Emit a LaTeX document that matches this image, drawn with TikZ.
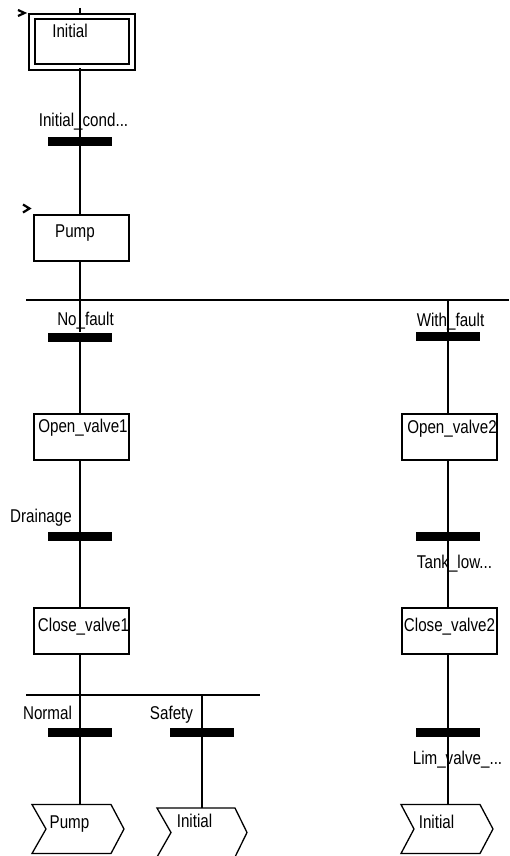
\documentclass[tikz,border=0pt]{standalone}
\usepackage{fontspec}
\setmainfont{Liberation Sans}[FakeStretch=0.82]
\begin{document}
\begin{tikzpicture}[x=1pt,y=-1pt,
  every node/.style={font=\fontsize{18.5}{21}\selectfont},
  flow/.style={line width=2pt},
  stepbox/.style={draw, line width=2pt, minimum width=95pt, minimum height=46pt, inner sep=0pt},
  trbar/.style={fill=black, minimum width=64pt, minimum height=9pt, inner sep=0pt},
  lbl/.style={anchor=base, inner sep=0pt},
  jumpline/.style={line width=1.3pt, line join=miter},
  initmark/.style={line width=2.2pt, line join=miter}]
\useasboundingbox (0,0) rectangle (509,856);

% steps
\node[stepbox, double, double distance=3.5pt, minimum width=100pt, minimum height=50.5pt] (init) at (82,41.75) {};
\node[stepbox] (pump) at (81.5,238) {};
\node[stepbox] (ov1) at (81.5,437) {};
\node[stepbox] (cv1) at (81.5,631) {};
\node[stepbox] (ov2) at (449,436.5) {};
\node[stepbox] (cv2) at (449,631) {};

% step names
\node[lbl] (initT) at (70,38) {Initial};
\node[lbl] (pumpT) at (75,237) {Pump};
\node[lbl] (ov1T) at (83,432) {Open\_valve1};
\node[lbl] (cv1T) at (83.5,631) {Close\_valve1};
\node[lbl] (ov2T) at (452,433) {Open\_valve2};
\node[lbl] (cv2T) at (449.5,631) {Close\_valve2};

% initial-step markers
\draw[initmark] (18,10) -- (24.5,13) -- (18,16);
\draw[initmark] (23,204.5) -- (29.5,208.5) -- (23,212.5);

% transitions
\node[trbar] (t1) at (80,141.5) {};
\node[trbar] (tnf) at (80,337) {};
\node[trbar] (twf) at (448,336.5) {};
\node[trbar] (tdr) at (80,536.5) {};
\node[trbar] (ttl) at (448,536.5) {};
\node[trbar] (tno) at (80,732.5) {};
\node[trbar] (tsa) at (202,732.5) {};
\node[trbar] (tlv) at (448,732.5) {};

% transition conditions
\node[lbl] (t1T) at (83.5,126) {Initial\_cond...};
\node[lbl] (tnfT) at (85.5,325) {No\_fault};
\node[lbl] (twfT) at (450.5,326) {With\_fault};
\node[lbl] (tdrT) at (41,522) {Drainage};
\node[lbl] (ttlT) at (454.5,568) {Tank\_low...};
\node[lbl] (tnoT) at (47.5,719) {Normal};
\node[lbl] (tsaT) at (171.5,719) {Safety};
\node[lbl] (tlvT) at (457.5,764) {Lim\_valve\_...};

% divergence / jump anchor points
\coordinate (top) at (80,8);
\coordinate (divA) at (26,300);
\coordinate (divB) at (509,300);
\coordinate (brR) at (448,300);
\coordinate (conA) at (26,695);
\coordinate (conB) at (260,695);
\coordinate (brS) at (202,694);
\coordinate (j1) at (32,804.5);
\coordinate (j2) at (157,808);
\coordinate (j3) at (401,804.5);

% jumps
\draw[jumpline] (j1) -- ++(79,0) -- ++(13,24.5) -- ++(-13,24.5) -- ++(-79,0) -- ++(14,-24.5) -- cycle;
\draw[jumpline] (j2) -- ++(78,0) -- ++(12,24.5) -- ++(-12,24.5) -- ++(-78,0) -- ++(14,-24.5) -- cycle;
\draw[jumpline] (j3) -- ++(79,0) -- ++(13,24.5) -- ++(-13,24.5) -- ++(-79,0) -- ++(13,-24.5) -- cycle;
\node[lbl] (j1T) at (69.5,828) {Pump};
\node[lbl] (j2T) at (194.5,827) {Initial};
\node[lbl] (j3T) at (436.5,828) {Initial};

% links
\draw[flow] (top) -- (top |- init.north);
\draw[flow] (t1 |- init.south) -- (t1) -- (t1 |- pump.north);
\draw[flow] (tnf |- pump.south) -- (tnf) -- (tnf |- ov1.north);
\draw[flow] (divA) -- (divB);
\draw[flow] (brR) -- (twf) -- (twf |- ov2.north);
\draw[flow] (tdr |- ov1.south) -- (tdr) -- (tdr |- cv1.north);
\draw[flow] (ttl |- ov2.south) -- (ttl) -- (ttl |- cv2.north);
\draw[flow] (tno |- cv1.south) -- (tno) -- (tno |- j1);
\draw[flow] (conA) -- (conB);
\draw[flow] (brS) -- (tsa) -- (tsa |- j2);
\draw[flow] (tlv |- cv2.south) -- (tlv) -- (tlv |- j3);
\end{tikzpicture}
\end{document}
